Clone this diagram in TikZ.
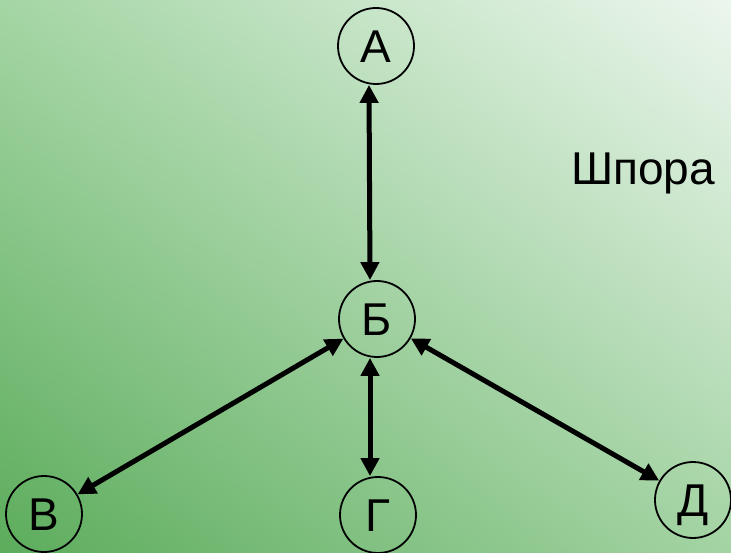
\documentclass[tikz,border=0pt]{standalone}
\usepackage{fontspec}
\setmainfont{Liberation Sans}
\usetikzlibrary{arrows.meta, shadings}
\usepackage{xcolor}

\definecolor{bgll}{RGB}{92,172,92}
\definecolor{bgul}{RGB}{164,213,164}
\definecolor{bglr}{RGB}{163,211,163}
\definecolor{bgur}{RGB}{236,246,238}

\begin{document}
\begin{tikzpicture}[>={Triangle[length=18pt,width=18pt]}, x=1pt, y=-1pt,
    vertex/.style={draw, circle, line width=1.8pt, minimum size=76pt, inner sep=0pt,
        text height=33pt, text depth=0pt, font=\fontsize{46}{50}\selectfont},
    link/.style={<->, line width=5pt}]
    % --- 背景 ---
    \useasboundingbox (0,0) rectangle (731,553);
    \shade[lower left=bgll, upper left=bgul, lower right=bglr, upper right=bgur]
        (0,553) rectangle (731,0);

    % --- 頂点 ---
    \node[vertex] (A) at (376,46) {А};
    \node[vertex] (B) at (377,319) {Б};
    \node[vertex] (V) at (44,514) {В};
    \node[vertex] (G) at (378,515) {Г};
    \node[vertex] (D) at (693,500) {Д};

    % --- 矢印 (縦の二本は少し左寄り) ---
    \draw[link] ([xshift=-7pt]A.south) -- ([xshift=-7pt]B.north);
    \draw[link] (B) -- (V);
    \draw[link] ([xshift=-7pt]B.south) -- ([xshift=-8pt]G.north);
    \draw[link] (B) -- (D);

    % ラベル
    \node[anchor=base west, inner sep=0pt, font=\fontsize{46}{50}\selectfont] (title) at (571,185) {Шпора};
\end{tikzpicture}
\end{document}
